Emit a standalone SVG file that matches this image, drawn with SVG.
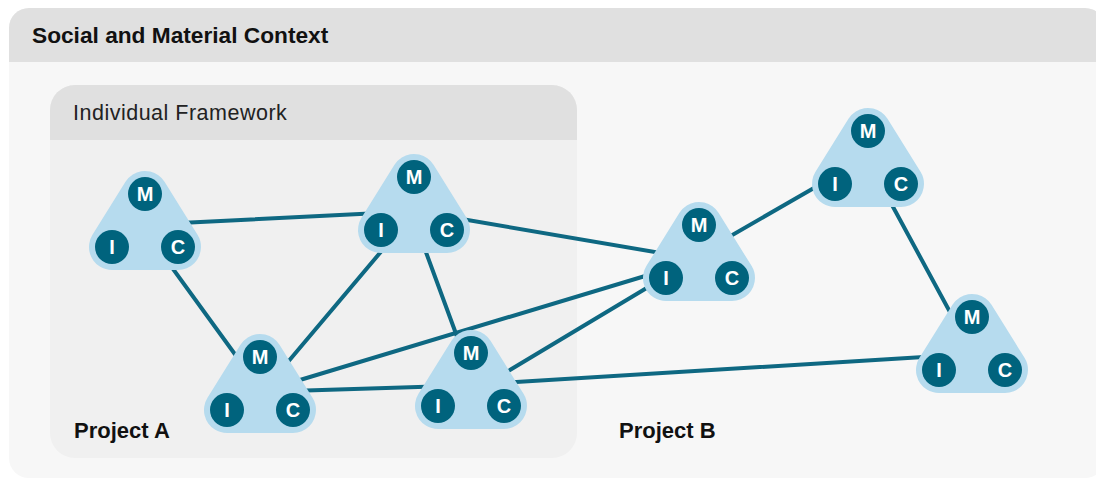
<svg xmlns="http://www.w3.org/2000/svg" width="1096" height="481" viewBox="0 0 1096 481">
  <style>
    .panel-body { fill: #f7f7f7; }
    .panel-head { fill: #e0e0e0; }
    .inner-body { fill: #f0f0f0; }
    .title { font-family: "Liberation Sans", Arial, sans-serif; font-weight: bold; font-size: 22.7px; fill: #111; }
    .subtitle { font-family: "Liberation Sans", Arial, sans-serif; font-size: 21.5px; letter-spacing: 0.5px; fill: #222; }
    .project { font-family: "Liberation Sans", Arial, sans-serif; font-weight: bold; font-size: 22px; fill: #111; }
    .link { stroke: #0e6882; stroke-width: 4; stroke-linecap: round; fill: none; }
    .tri { fill: #b6dbee; stroke: #b6dbee; stroke-width: 46; stroke-linejoin: round; }
    .dot { fill: #00637d; }
    .lbl { font-family: "Liberation Sans", Arial, sans-serif; font-weight: bold; font-size: 20px; fill: #ffffff; text-anchor: middle; }
  </style>

  <rect width="1096" height="481" fill="#ffffff"/>

  <!-- Outer context panel -->
  <g id="context">
    <rect class="panel-body" x="9" y="8" width="1096" height="470" rx="20"/>
    <path class="panel-head" d="M9,62 V28 A20,20 0 0 1 29,8 H1085 A20,20 0 0 1 1105,28 V62 Z"/>
    <text class="title" x="32" y="43">Social and Material Context</text>
  </g>

  <!-- Individual framework panel -->
  <g id="framework">
    <rect class="inner-body" x="50" y="85" width="527" height="373" rx="25"/>
    <path class="panel-head" d="M50,140 V110 A25,25 0 0 1 75,85 H552 A25,25 0 0 1 577,110 V140 Z"/>
    <text class="subtitle" x="73" y="120">Individual Framework</text>
  </g>

  <text class="project" x="74" y="438">Project A</text>
  <text class="project" x="619" y="438">Project B</text>

  <!-- Connectors -->
  <g id="connectors">
    <line class="link" x1="160" y1="224" x2="400" y2="212"/>
    <line class="link" x1="152" y1="240" x2="250" y2="375"/>
    <line class="link" x1="390" y1="241" x2="282" y2="369"/>
    <line class="link" x1="420" y1="236" x2="462" y2="350"/>
    <line class="link" x1="450" y1="217" x2="690" y2="258"/>
    <line class="link" x1="290" y1="383" x2="665" y2="270"/>
    <line class="link" x1="290" y1="391" x2="450" y2="386"/>
    <line class="link" x1="500" y1="376" x2="670" y2="274"/>
    <line class="link" x1="500" y1="383" x2="940" y2="356"/>
    <line class="link" x1="715" y1="245" x2="840" y2="173"/>
    <line class="link" x1="879" y1="181" x2="957" y2="325"/>
  </g>

  <!-- Nodes: each has M (top), I (lower left), C (lower right) -->
  <g id="node1" transform="translate(145,194)">
    <polygon class="tri" points="0,0 -33,53 33,53"/>
    <circle class="dot" cx="0" cy="0" r="17"/><text class="lbl" x="0" y="7.2">M</text>
    <circle class="dot" cx="-33" cy="53" r="17"/><text class="lbl" x="-33" y="60.2">I</text>
    <circle class="dot" cx="33" cy="53" r="17"/><text class="lbl" x="33" y="60.2">C</text>
  </g>
  <g id="node2" transform="translate(414,177)">
    <polygon class="tri" points="0,0 -33,53 33,53"/>
    <circle class="dot" cx="0" cy="0" r="17"/><text class="lbl" x="0" y="7.2">M</text>
    <circle class="dot" cx="-33" cy="53" r="17"/><text class="lbl" x="-33" y="60.2">I</text>
    <circle class="dot" cx="33" cy="53" r="17"/><text class="lbl" x="33" y="60.2">C</text>
  </g>
  <g id="node3" transform="translate(260,357)">
    <polygon class="tri" points="0,0 -33,53 33,53"/>
    <circle class="dot" cx="0" cy="0" r="17"/><text class="lbl" x="0" y="7.2">M</text>
    <circle class="dot" cx="-33" cy="53" r="17"/><text class="lbl" x="-33" y="60.2">I</text>
    <circle class="dot" cx="33" cy="53" r="17"/><text class="lbl" x="33" y="60.2">C</text>
  </g>
  <g id="node4" transform="translate(471,353)">
    <polygon class="tri" points="0,0 -33,53 33,53"/>
    <circle class="dot" cx="0" cy="0" r="17"/><text class="lbl" x="0" y="7.2">M</text>
    <circle class="dot" cx="-33" cy="53" r="17"/><text class="lbl" x="-33" y="60.2">I</text>
    <circle class="dot" cx="33" cy="53" r="17"/><text class="lbl" x="33" y="60.2">C</text>
  </g>
  <g id="node5" transform="translate(699,225)">
    <polygon class="tri" points="0,0 -33,53 33,53"/>
    <circle class="dot" cx="0" cy="0" r="17"/><text class="lbl" x="0" y="7.2">M</text>
    <circle class="dot" cx="-33" cy="53" r="17"/><text class="lbl" x="-33" y="60.2">I</text>
    <circle class="dot" cx="33" cy="53" r="17"/><text class="lbl" x="33" y="60.2">C</text>
  </g>
  <g id="node6" transform="translate(868,131)">
    <polygon class="tri" points="0,0 -33,53 33,53"/>
    <circle class="dot" cx="0" cy="0" r="17"/><text class="lbl" x="0" y="7.2">M</text>
    <circle class="dot" cx="-33" cy="53" r="17"/><text class="lbl" x="-33" y="60.2">I</text>
    <circle class="dot" cx="33" cy="53" r="17"/><text class="lbl" x="33" y="60.2">C</text>
  </g>
  <g id="node7" transform="translate(972,317)">
    <polygon class="tri" points="0,0 -33,53 33,53"/>
    <circle class="dot" cx="0" cy="0" r="17"/><text class="lbl" x="0" y="7.2">M</text>
    <circle class="dot" cx="-33" cy="53" r="17"/><text class="lbl" x="-33" y="60.2">I</text>
    <circle class="dot" cx="33" cy="53" r="17"/><text class="lbl" x="33" y="60.2">C</text>
  </g>
</svg>
